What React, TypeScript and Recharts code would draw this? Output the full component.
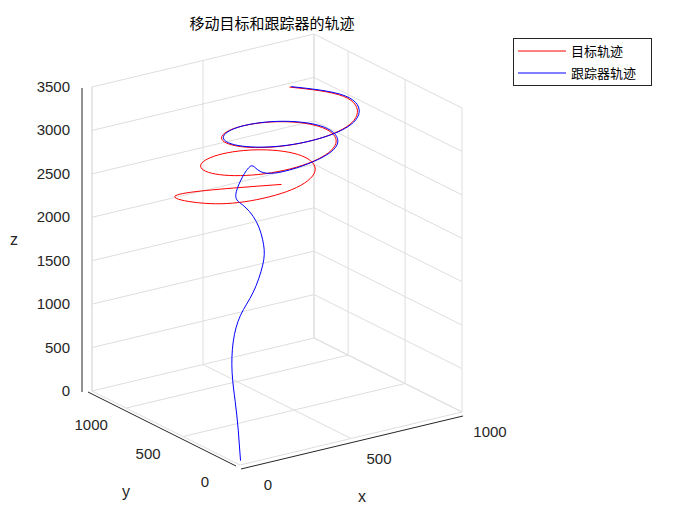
import React from "react";
import { ScatterChart, Scatter, XAxis, YAxis } from "recharts";

// axis ranges (data units)
const X_MAX = 1000;
const Y_MAX = 1300;
const Z_MAX = 3500;
const xTicks = [0, 500, 1000];
const yTicks = [0, 500, 1000];
const zTicks = [0, 500, 1000, 1500, 2000, 2500, 3000, 3500];

// target helix (x, y, z)
const targetX = [665, 842, 817, 665, 475, 359, 383, 535, 725, 842, 817, 665, 475, 359, 383, 535, 725, 842, 817, 665, 475, 359, 383, 700];
const targetY = [863, 734, 567, 473, 521, 696, 909, 1049, 1047, 918, 751, 657, 705, 880, 1093, 1233, 1231, 1102, 935, 841, 889, 1064, 1277, 1000];
const targetZ = [3380, 3250, 3157, 3102, 3046, 2991, 2935, 2880, 2824, 2769, 2713, 2658, 2602, 2547, 2491, 2436, 2380, 2325, 2269, 2214, 2158, 2103, 2047, 2148];

// tracker trajectory (x, y, z)
const trackerX = [28, 18, 4, -10, -5, 28, 85, 128, 132, 99, 37, 9, 200, 483, 673, 825, 850, 733, 543, 391, 367, 483, 673, 825, 850, 673];
const trackerY = [50, 50, 50, 50, 50, 50, 50, 50, 50, 50, 50, 50, 300, 705, 657, 751, 918, 1047, 1049, 909, 696, 521, 473, 567, 734, 863];
const trackerZ = [0, 351, 696, 1041, 1387, 1674, 1904, 2192, 2422, 2710, 2940, 3107, 3120, 2602, 2658, 2713, 2769, 2824, 2880, 2935, 2991, 3046, 3102, 3157, 3250, 3380];

const proj = (x: number, y: number, z: number) => ({
  sx: 240 + (x * 222) / X_MAX - (y * 148) / Y_MAX,
  sy: 465 - (x * 53) / X_MAX - (y * 74) / Y_MAX - (z * 304) / Z_MAX,
});

const toPts = (xs: number[], ys: number[], zs: number[]) => xs.map((x, i) => proj(x, ys[i], zs[i]));

const seg = (a: number[], b: number[]) => [proj(a[0], a[1], a[2]), proj(b[0], b[1], b[2])];

const GRID = "#dedede";
const AX = "#262626";

const gridSegs: { sx: number; sy: number }[][] = [];
zTicks.forEach((z) => {
  gridSegs.push(seg([0, Y_MAX, z], [X_MAX, Y_MAX, z]));
  gridSegs.push(seg([X_MAX, Y_MAX, z], [X_MAX, 0, z]));
});
xTicks.forEach((x) => {
  gridSegs.push(seg([x, Y_MAX, 0], [x, Y_MAX, Z_MAX]));
  gridSegs.push(seg([x, 0, 0], [x, Y_MAX, 0]));
});
yTicks.forEach((y) => {
  gridSegs.push(seg([X_MAX, y, 0], [X_MAX, y, Z_MAX]));
  gridSegs.push(seg([0, y, 0], [X_MAX, y, 0]));
});
gridSegs.push(seg([0, Y_MAX, 0], [0, Y_MAX, Z_MAX]));
gridSegs.push(seg([X_MAX, Y_MAX, 0], [X_MAX, Y_MAX, Z_MAX]));

// black axis lines (slightly offset like the original)
const off = (p: { sx: number; sy: number }[], dx: number, dy: number) => p.map((q) => ({ sx: q.sx + dx, sy: q.sy + dy }));
const axisSegs = [
  off(seg([0, Y_MAX, 0], [0, Y_MAX, Z_MAX]), -10, 1),
  off(seg([0, 0, 0], [0, Y_MAX, 0]), -4, 1),
  off(seg([0, 0, 0], [X_MAX, 0, 0]), 1, 4),
];

const zLabels = zTicks.map((z) => ({ ...proj(0, Y_MAX, z), label: String(z), kind: "z" }));
const xLabels = xTicks.map((x) => ({ ...proj(x, 0, 0), label: String(x), kind: "x" }));
const yLabels = yTicks.map((y) => ({ ...proj(0, y, 0), label: String(y), kind: "y" }));
const tickLabels = [...zLabels, ...xLabels, ...yLabels];

const Empty = () => <g />;

const LabelShape = (props: any) => {
  const { cx, cy, payload } = props;
  const k = payload.kind;
  let x = cx, y = cy, anchor: any = "middle";
  if (k === "z") { x = cx - 22; anchor = "end"; y = cy + 5; }
  if (k === "x") { x = cx + 28; y = cy + 25; }
  if (k === "y") { x = cx - 35; y = cy + 22; }
  return (
    <text x={x} y={y} textAnchor={anchor} fontSize={15} fill={AX} fontFamily="'Liberation Sans', Arial, sans-serif">
      {payload.label}
    </text>
  );
};

export default function App() {
  return (
    <div style={{ position: "absolute", left: 0, top: 0, width: 700, height: 525, background: "#fff" }}>
      <ScatterChart width={700} height={525} margin={{ top: 0, right: 0, bottom: 0, left: 0 }}>
        <XAxis type="number" dataKey="sx" domain={[0, 700]} hide />
        <YAxis type="number" dataKey="sy" domain={[0, 525]} reversed hide />
        {gridSegs.map((g, i) => (
          <Scatter key={"g" + i} data={g} line={{ stroke: GRID, strokeWidth: 1 }} shape={Empty} isAnimationActive={false} />
        ))}
        {axisSegs.map((p, i) => (
          <Scatter key={"a" + i} data={p} line={{ stroke: AX, strokeWidth: 1 }} shape={Empty} isAnimationActive={false} />
        ))}
        <Scatter data={toPts(targetX, targetY, targetZ)} line={{ stroke: "#ff0000", strokeWidth: 1 }} lineJointType="natural" shape={Empty} isAnimationActive={false} />
        <Scatter data={toPts(trackerX, trackerY, trackerZ)} line={{ stroke: "#0000ff", strokeWidth: 1 }} lineJointType="natural" shape={Empty} isAnimationActive={false} />
        <Scatter data={tickLabels} shape={LabelShape} isAnimationActive={false} />
      </ScatterChart>
      <svg width={700} height={525} style={{ position: "absolute", left: 0, top: 0, pointerEvents: "none" }}>
        <text x={272} y={29} textAnchor="middle" fontSize={15} fill="#000" fontFamily="'Noto Sans CJK SC', sans-serif">移动目标和跟踪器的轨迹</text>
        <text x={362} y={502} textAnchor="middle" fontSize={16} fill={AX} fontFamily="'Liberation Sans', Arial, sans-serif">x</text>
        <text x={126} y={497} textAnchor="middle" fontSize={16} fill={AX} fontFamily="'Liberation Sans', Arial, sans-serif">y</text>
        <text x={14} y={245} textAnchor="middle" fontSize={16} fill={AX} fontFamily="'Liberation Sans', Arial, sans-serif">z</text>
        <rect x={513.5} y={38.5} width={138} height={47} fill="#fff" stroke={AX} strokeWidth={1} />
        <line x1={518} y1={51} x2={566} y2={51} stroke="#ff0000" />
        <text x={571} y={56} fontSize={13} fill="#000" fontFamily="'Noto Sans CJK SC', sans-serif">目标轨迹</text>
        <line x1={518} y1={73} x2={566} y2={73} stroke="#0000ff" />
        <text x={571} y={78} fontSize={13} fill="#000" fontFamily="'Noto Sans CJK SC', sans-serif">跟踪器轨迹</text>
      </svg>
    </div>
  );
}
